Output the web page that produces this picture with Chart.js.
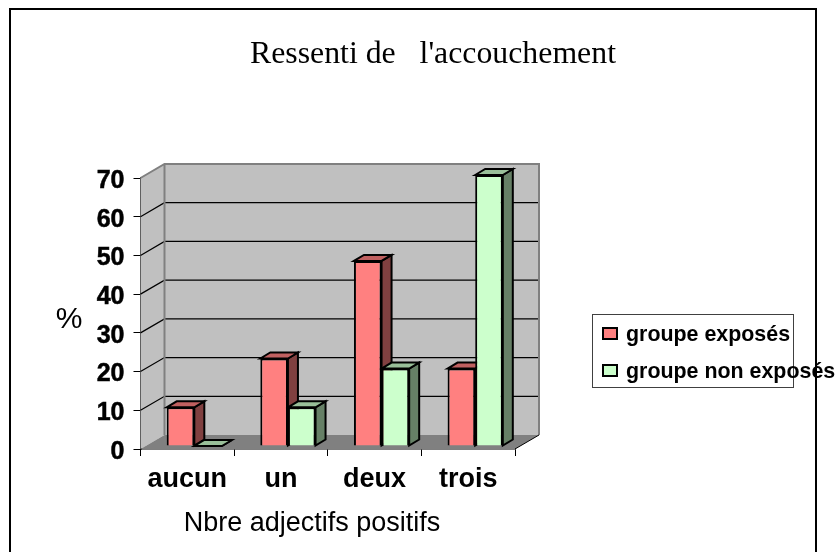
<!DOCTYPE html>
<html lang="fr">
<head>
  <meta charset="UTF-8">
  <title>Ressenti de l'accouchement</title>
  <script src="https://cdn.jsdelivr.net/npm/chart.js@4.4.1/dist/chart.umd.min.js"></script>
  <style>
    html, body { margin: 0; background: #fff; }
    #wrap { position: relative; width: 837px; height: 552px; }
  </style>
</head>
<body>
<div id="wrap"><canvas id="graphique"></canvas></div>

<script>
  const categories = ["aucun", "un", "deux", "trois"];
  const groupeExposes = [10, 22.6, 47.8, 20];
  const groupeNonExposes = [0, 10, 20, 70];
  const yTicks = [0, 10, 20, 30, 40, 50, 60, 70];
  const titre = "Ressenti de   l'accouchement";
  const titreX = "Nbre adjectifs positifs";
  const titreY = "%";

  // decalage de la perspective (mur du fond, bords des barres)
  const murDx = 24, murDy = 14;
  const barreDx = 7, barreDy = 3;
  const faceDx = 10, faceDy = 6;

  const couleurs = [
    { front: "#ff8080", top: "#c06060", side: "#804040" },
    { front: "#ccffcc", top: "#99bf99", side: "#668066" }
  ];

  function texte(ctx, str, x, y, font, align) {
    ctx.font = font;
    ctx.fillStyle = "#000";
    ctx.textAlign = align || "left";
    ctx.textBaseline = "alphabetic";
    ctx.fillText(str, x, y);
  }

  function poly(ctx, pts, fill, stroke, lw) {
    ctx.beginPath();
    pts.forEach((p, i) => i ? ctx.lineTo(p[0], p[1]) : ctx.moveTo(p[0], p[1]));
    ctx.closePath();
    if (fill) { ctx.fillStyle = fill; ctx.fill(); }
    if (stroke) { ctx.strokeStyle = stroke; ctx.lineWidth = lw; ctx.stroke(); }
  }

  const decor3d = {
    id: "decor3d",
    beforeDraw(chart) {
      // les chiffres de l'axe y sont un peu plus bas que la graduation
      chart.scales.y.getLabelItems().forEach(item => {
        if (!item.decale) {
          item.options.translation[1] += 3;
          item.decale = true;
        }
      });
    },
    beforeDatasetsDraw(chart) {
      const { ctx, chartArea: a, scales: { y } } = chart;
      const l = a.left, r = a.right, t = a.top, b = a.bottom;
      ctx.save();
      // cadre
      ctx.strokeStyle = "#000";
      ctx.lineWidth = 2;
      ctx.strokeRect(10, 9, 806, 560);
      // murs et sol
      poly(ctx, [[l + murDx, t - murDy], [r + murDx, t - murDy], [r + murDx, b - murDy], [l + murDx, b - murDy]], "#c0c0c0");
      poly(ctx, [[l, t], [l + murDx, t - murDy], [l + murDx, b - murDy], [l, b]], "#c0c0c0");
      poly(ctx, [[l, b], [l + murDx, b - murDy], [r + murDx, b - murDy], [r, b]], "#808080");
      // lignes de grille
      ctx.strokeStyle = "#000";
      ctx.lineWidth = 1.2;
      yTicks.slice(1, -1).forEach(v => {
        const py = y.getPixelForValue(v);
        ctx.beginPath();
        ctx.moveTo(l, py);
        ctx.lineTo(l + murDx, py - murDy);
        ctx.lineTo(r + murDx, py - murDy);
        ctx.stroke();
      });
      // bords des murs
      ctx.strokeStyle = "#808080";
      ctx.lineWidth = 2;
      ctx.beginPath();
      ctx.moveTo(l, t);
      ctx.lineTo(l + murDx, t - murDy);
      ctx.lineTo(r + murDx, t - murDy);
      ctx.lineTo(r + murDx, b - murDy);
      ctx.moveTo(l + murDx, t - murDy);
      ctx.lineTo(l + murDx, b - murDy);
      ctx.stroke();
      // bord du sol
      ctx.strokeStyle = "#000";
      ctx.lineWidth = 1;
      ctx.beginPath();
      ctx.moveTo(r, b);
      ctx.lineTo(r + murDx, b - murDy);
      ctx.stroke();

      // faces du dessus et de cote : rouge puis vert, avant les faces avant
      ctx.translate(barreDx, -barreDy);
      [0, 1].forEach(i => {
        const c = couleurs[i];
        chart.getDatasetMeta(i).data.forEach(bar => {
          const g = bar.x - bar.width / 2, d = bar.x + bar.width / 2;
          const h = bar.y, bas = bar.base;
          poly(ctx, [[d, h], [d + faceDx, h - faceDy], [d + faceDx, bas - faceDy], [d, bas]], c.side, "#000", 2);
          poly(ctx, [[g, h], [g + faceDx, h - faceDy], [d + faceDx, h - faceDy], [d, h]], c.top, "#000", 2);
        });
      });
      ctx.restore();
    },
    beforeDatasetDraw(chart) {
      chart.ctx.save();
      chart.ctx.translate(barreDx, -barreDy);
    },
    afterDatasetDraw(chart) {
      chart.ctx.restore();
    },
    afterDraw(chart) {
      const { ctx } = chart;
      ctx.save();
      texte(ctx, titre, 250, 63, "31.8px 'Liberation Serif'");
      texte(ctx, titreX, 312, 531, "27px 'Liberation Sans'", "center");
      texte(ctx, titreY, 69, 328, "30px 'Liberation Sans'", "center");
      // legende
      ctx.strokeStyle = "#404040";
      ctx.lineWidth = 1;
      ctx.strokeRect(592.5, 314.5, 201, 73);
      chart.data.datasets.forEach((ds, i) => {
        const ly = 334 + i * 37;
        ctx.fillStyle = ds.backgroundColor;
        ctx.strokeStyle = "#000";
        ctx.lineWidth = 2;
        ctx.fillRect(603, ly - 6, 14, 11);
        ctx.strokeRect(603, ly - 6, 14, 11);
        texte(ctx, ds.label, 626, ly + 7, "bold 21.4px 'Liberation Sans'");
      });
      ctx.restore();
    }
  };

  new Chart(document.getElementById("graphique"), {
    type: "bar",
    data: {
      labels: categories,
      datasets: [
        { label: "groupe exposés", data: groupeExposes, backgroundColor: couleurs[0].front, borderColor: "#000", borderWidth: 2 },
        { label: "groupe non exposés", data: groupeNonExposes, backgroundColor: couleurs[1].front, borderColor: "#000", borderWidth: 2 }
      ]
    },
    plugins: [decor3d],
    options: {
      responsive: true,
      maintainAspectRatio: false,
      animation: false,
      layout: { padding: { left: 0, right: 322, top: 178, bottom: 0 } },
      datasets: { bar: { categoryPercentage: 0.59, barPercentage: 1 } },
      plugins: { legend: { display: false }, tooltip: { enabled: false } },
      scales: {
        x: {
          afterFit(s) { s.height = 103; },
          grid: { drawOnChartArea: false, color: "#000", tickLength: 7 },
          border: { color: "#000", width: 1.5 },
          ticks: { color: "#000", padding: 7, maxRotation: 0, font: { family: "Liberation Sans", size: 27, weight: "bold" } }
        },
        y: {
          min: 0,
          max: 70,
          afterFit(s) { s.width = 140.5; },
          afterBuildTicks(s) { s.ticks = yTicks.map(v => ({ value: v })); },
          grid: { drawOnChartArea: false, color: "#000", tickLength: 7 },
          border: { color: "#000", width: 1.5 },
          ticks: { color: "#000", padding: 9, textStrokeColor: "#000", textStrokeWidth: 0.5, font: { family: "Liberation Sans", size: 25, weight: "bold" } }
        }
      }
    }
  });
</script>
</body>
</html>
